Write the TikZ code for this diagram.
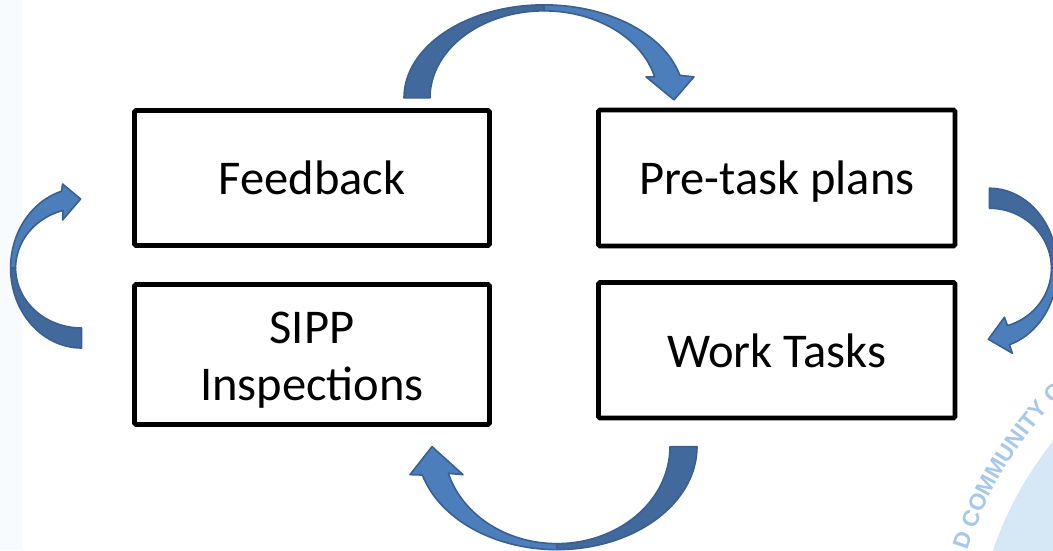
\documentclass[tikz,border=0pt]{standalone}
\usepackage{fontspec}
\setmainfont{Carlito}
\newfontfamily\sealfont{Liberation Sans}
\usetikzlibrary{calc,decorations.text}

\definecolor{arrowfront}{HTML}{4C7EBB}
\definecolor{arrowback}{HTML}{41699B}
\definecolor{arrowline}{HTML}{3A6091}
\definecolor{sealdisk}{HTML}{D6E7F6}
\definecolor{sealtext}{HTML}{A6C8E9}
\definecolor{edgetint}{HTML}{F8FBFE}

\begin{document}
\begin{tikzpicture}[x=1pt,y=1pt,
  box/.style={draw=black, line width=4.8pt, rounded corners=1.5pt, inner sep=0pt,
              font=\fontsize{48.5}{57}\selectfont},
  oneline/.style={text height=34pt, text depth=0pt},
  backband/.style={fill=arrowback, draw=arrowline, line width=1.6pt, line join=round},
  frontband/.style={fill=arrowfront, draw=arrowline, line width=1.6pt, line join=round},
]
\useasboundingbox (0,0) rectangle (1053,550);
\fill[white] (0,0) rectangle (1053,550);
\fill[edgetint] (0,0) rectangle (22,550);

% faint college seal in the lower right corner
\begin{scope}
  \clip (0,0) rectangle (1053,550);
  \coordinate (seal) at (1340,-120);
  \fill[sealdisk] (seal) circle[radius=367];
  \path[decorate, decoration={text along path, text align=center,
        text={|\sealfont\bfseries\fontsize{23}{23}\selectfont\color{sealtext}|D COMMUNITY C}}]
        (seal) ++(169:391) arc[start angle=169, end angle=128, radius=391];
\end{scope}

% the four stages
\node[box, oneline, minimum width=355pt, minimum height=135pt] (fb) at (312,372) {Feedback};
\node[box, oneline, minimum width=356.5pt, minimum height=136pt] (pre) at (776.75,372) {Pre-task plans};
\node[box, oneline, minimum width=356.5pt, minimum height=135.5pt] (work) at (776.75,199.75) {Work Tasks};
\node[box, minimum width=355pt, minimum height=140pt] (sipp) at (312,195.5) {};
\node[font=\fontsize{48.5}{57}\selectfont, align=center, inner sep=0pt] (sipplabel)
     at ([yshift=-6pt]sipp.center) {SIPP\\Inspections};

% centres of the curved block arrows, placed between the boxes
\coordinate (ctop)    at ($(fb.north east)!0.5!(pre.north west)+(0,10)$);
\coordinate (cright)  at ($(pre.south east)!0.5!(work.north east)+(32,-4)$);
\coordinate (cbottom) at ($(work.south west)!0.5!(sipp.south east)+(13,-23)$);
\coordinate (cleft)   at ($(fb.south west)!0.5!(sipp.north west)+(-50.5,-3)$);

% Feedback -> Pre-task plans
\begin{scope}[shift={(ctop)}]
  \filldraw[backband]
    plot[domain=180:90, samples=40, variable=\t] ({140*cos(\t)},{93*sin(\t)})
    -- plot[domain=90:180, samples=40, variable=\t] ({114*cos(\t)},{87*sin(\t)}) -- cycle;
  \filldraw[frontband]
    plot[domain=90:14, samples=40, variable=\t] ({140*cos(\t)},{93*sin(\t)})
    -- (150,21) -- (130,-2) -- (102,21)
    -- plot[domain=14:90, samples=40, variable=\t] ({114*cos(\t)},{87*sin(\t)}) -- cycle;
\end{scope}

% Pre-task plans -> Work Tasks
\begin{scope}[shift={(cright)}]
  \filldraw[backband]
    plot[domain=90:0, samples=40, variable=\t] ({68*cos(\t)},{80*sin(\t)})
    -- plot[domain=0:90, samples=40, variable=\t] ({62*cos(\t)},{60*sin(\t)}) -- cycle;
  \filldraw[frontband]
    plot[domain=0:-73, samples=40, variable=\t] ({68*cos(\t)},{80*sin(\t)})
    -- (23,-85) -- (-1,-71) -- (15,-49)
    -- plot[domain=-73:0, samples=40, variable=\t] ({62*cos(\t)},{60*sin(\t)}) -- cycle;
\end{scope}

% Work Tasks -> SIPP Inspections
\begin{scope}[shift={(cbottom)}]
  \filldraw[backband]
    plot[domain=0:-90, samples=40, variable=\t] ({140*cos(\t)},{103*sin(\t)})
    -- plot[domain=-90:0, samples=40, variable=\t] ({113*cos(\t)},{97*sin(\t)}) -- cycle;
  \filldraw[frontband]
    plot[domain=-90:-164, samples=40, variable=\t] ({140*cos(\t)},{103*sin(\t)})
    -- (-147,-28) -- (-125,0) -- (-94,-28)
    -- plot[domain=-164:-90, samples=40, variable=\t] ({113*cos(\t)},{97*sin(\t)}) -- cycle;
\end{scope}

% SIPP Inspections -> Feedback
\begin{scope}[shift={(cleft)}]
  \filldraw[backband]
    plot[domain=-90:-180, samples=40, variable=\t] ({71*cos(\t)},{80*sin(\t)})
    -- plot[domain=-180:-90, samples=40, variable=\t] ({66*cos(\t)},{60*sin(\t)}) -- cycle;
  \filldraw[frontband]
    plot[domain=-180:-253.6, samples=40, variable=\t] ({71*cos(\t)},{80*sin(\t)})
    -- (-19,84) -- (-1,69) -- (-19,48)
    -- plot[domain=-253.6:-180, samples=40, variable=\t] ({66*cos(\t)},{60*sin(\t)}) -- cycle;
\end{scope}
\end{tikzpicture}
\end{document}
